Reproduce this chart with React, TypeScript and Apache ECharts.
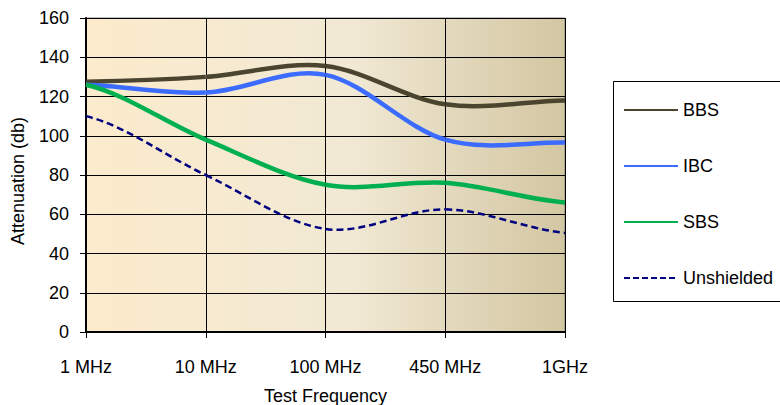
import React, { useEffect, useRef } from "react";
import * as echarts from "echarts";

const categories = ["1 MHz", "10 MHz", "100 MHz", "450 MHz", "1GHz"];
const bbs = [127.5, 130, 135.5, 116, 118];
const ibc = [126, 122, 131, 98, 96.5];
const sbs = [126, 98, 75, 76, 66];
const unshielded = [110, 80, 52.5, 62.5, 50.5];
const yTicks = { min: 0, max: 160, interval: 20 };

export default function App() {
  const ref = useRef<HTMLDivElement>(null);
  useEffect(() => {
    if (!ref.current) return;
    const chart = echarts.init(ref.current, undefined, { renderer: "svg" });
    const font = "Liberation Sans, Arial, sans-serif";

    const legendSeries = (name: string, color: string, width: number, type: any) => ({
      name,
      type: "line",
      data: [],
      symbol: "none",
      lineStyle: { color, width, type },
      itemStyle: { color },
    });

    const curve = (name: string, vals: number[], color: string, width: number, dash: number[] | null) => ({
      name,
      id: name + "-curve",
      type: "custom",
      coordinateSystem: "cartesian2d",
      encode: { x: 0, y: 1 },
      data: vals.slice(0, vals.length - 1).map((v, i) => [i, v]),
      renderItem: (params: any, api: any) => {
        const i = api.value(0);
        const n = vals.length;
        const p = (k: number) => api.coord([k, vals[Math.max(0, Math.min(n - 1, k))]]);
        const P0 = p(i - 1), P1 = p(i), P2 = p(i + 1), P3 = p(i + 2);
        const t = 1 / 6;
        return {
          type: "bezierCurve",
          shape: {
            x1: P1[0], y1: P1[1],
            x2: P2[0], y2: P2[1],
            cpx1: P1[0] + (P2[0] - P0[0]) * t,
            cpy1: P1[1] + (P2[1] - P0[1]) * t,
            cpx2: P2[0] - (P3[0] - P1[0]) * t,
            cpy2: P2[1] - (P3[1] - P1[1]) * t,
          },
          style: {
            fill: "none",
            stroke: color,
            lineWidth: width,
            lineDash: dash || undefined,
            lineCap: "butt",
          },
        };
      },
    });

    chart.setOption({
      animation: false,
      textStyle: { fontFamily: font },
      grid: {
        left: 86,
        right: 215,
        top: 18,
        bottom: 73,
        containLabel: false,
        outerBoundsMode: "none",
        show: true,
        borderColor: "#808080",
        borderWidth: 1,
        backgroundColor: new echarts.graphic.LinearGradient(0, 0, 1, 0, [
          { offset: 0, color: "#FCEBCC" },
          { offset: 0.55, color: "#F1E9D4" },
          { offset: 1, color: "#D3C6A2" },
        ]),
      },
      xAxis: {
        type: "category",
        data: categories,
        boundaryGap: false,
        name: "Test Frequency",
        nameLocation: "middle",
        nameGap: 55,
        nameTextStyle: { fontSize: 18, color: "#000", fontFamily: font },
        axisLine: { lineStyle: { color: "#000", width: 2 } },
        axisTick: { show: true, length: 6, lineStyle: { color: "#000", width: 1 } },
        axisLabel: { fontSize: 18, color: "#000", margin: 26, fontFamily: font },
        splitLine: { show: true, lineStyle: { color: "#000", width: 1 } },
      },
      yAxis: {
        type: "value",
        min: yTicks.min,
        max: yTicks.max,
        interval: yTicks.interval,
        axisLine: { show: true, lineStyle: { color: "#000", width: 2 } },
        axisTick: { show: true, length: 6, lineStyle: { color: "#000", width: 1 } },
        axisLabel: { fontSize: 18, color: "#000", margin: 17, fontFamily: font },
        splitLine: { show: true, lineStyle: { color: "#000", width: 1 } },
      },
      legend: {
        orient: "vertical",
        left: 623,
        top: 101,
        padding: 0,
        itemWidth: 54,
        itemHeight: 14,
        itemGap: 38,
        itemStyle: { opacity: 0 },
        textStyle: { fontSize: 18, color: "#000", fontFamily: font },
        data: ["BBS", "IBC", "SBS", "Unshielded"],
      },
      graphic: [
        {
          type: "rect",
          shape: { x: 613.5, y: 81.5, width: 180, height: 220 },
          style: { fill: "#fff", stroke: "#000", lineWidth: 1 },
          z: -1,
        },
        {
          type: "text",
          x: 18,
          y: 181,
          rotation: Math.PI / 2,
          style: {
            text: "Attenuation (db)",
            fontSize: 18,
            fontFamily: font,
            fill: "#000",
            align: "center",
            verticalAlign: "middle",
          },
        },
      ],
      series: [
        legendSeries("BBS", "#4B4530", 3.5, "solid"),
        legendSeries("IBC", "#3B6BFF", 3.5, "solid"),
        legendSeries("SBS", "#00B050", 3.5, "solid"),
        legendSeries("Unshielded", "#000080", 2.5, [6, 3]),
        curve("BBS", bbs, "#4B4530", 4.5, null),
        curve("IBC", ibc, "#3B6BFF", 4.5, null),
        curve("SBS", sbs, "#00B050", 4.5, null),
        curve("Unshielded", unshielded, "#000080", 2.5, [7, 4]),
      ],
    });
    return () => chart.dispose();
  }, []);
  return <div ref={ref} style={{ width: 780, height: 405, position: "absolute", left: 0, top: 0 }} />;
}
